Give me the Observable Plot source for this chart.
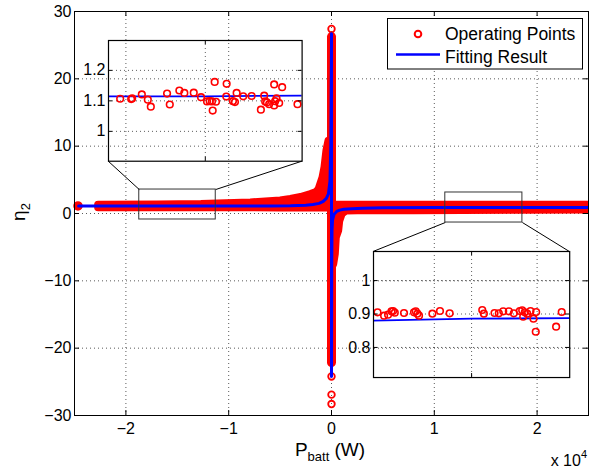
<!DOCTYPE html>
<html>
<head>
<meta charset="utf-8">
<script src="https://cdn.jsdelivr.net/npm/d3@7"></script>
<script src="https://cdn.jsdelivr.net/npm/@observablehq/plot@0.6"></script>
<style>
  body { margin: 0; background: #fff; }
  #chart { position: relative; width: 600px; height: 469px; font-family: "Liberation Sans", Arial, sans-serif; }
</style>
</head>
<body>
<div id="chart"></div>
<script>
// ================= DATA =================
const xTicks = [-20000, -10000, 0, 10000, 20000];
const yTicks = [-30, -20, -10, 0, 10, 20, 30];

// Dense cloud of operating points for P < 0 (envelope of marker centres)
const leftCloudX  = [-22700, -17000, -12700, -7900, -5000, -4000, -3000, -2040, -1500, -1260, -870, -680, -490, -300, 0];
const leftCloudHi = [1.30, 1.35, 1.40, 1.65, 1.95, 2.15, 2.45, 2.90, 3.20, 3.60, 5.40, 6.90, 9.40, 10.8, 10.8];
const leftCloudLo = [0.92, 0.92, 0.92, 0.92, 0.90, 0.90, 0.90, 0.88, 0.88, 0.88, 0.88, 0.88, 0.88, 0.88, 0.88];

// Dense cloud of operating points for P > 0
const rightCloudX  = [0, 100, 165, 320, 420, 650, 750, 1000, 1400, 2500, 8000, 18000, 25000];
const rightCloudLo = [-7.8, -7.7, -7.5, -6.0, -3.5, -2.5, -1.1, 0.0, 0.45, 0.5, 0.5, 0.55, 0.6];
const rightCloudHi = [1.3, 1.3, 1.3, 1.3, 1.3, 1.3, 1.3, 1.3, 1.3, 1.3, 1.3, 1.3, 1.3];

// Operating points stacked at P = 0
const columnLow = -22.2, columnHigh = 26.2;
const columnRingsY = [27.4, -24.2, -26.9, -28.3];
// isolated points at the far left
const edgePointsX = [-24660];
const edgePointsY = [1.12];

// Fitting result
const fitX = [-24600, -20000, -15000, -10000, -6000, -4000, -2500, -1800, -1200, -800, -500, -300, -150, -60, 0,
              0, 20, 50, 100, 250, 500, 800, 1200, 2000, 3000, 5000, 10000, 15000, 20000, 25000];
const fitY = [1.115, 1.115, 1.115, 1.118, 1.13, 1.16, 1.24, 1.33, 1.5, 1.8, 2.25, 2.9, 4.8, 10.5, 26.7,
              -24.2, -8.0, -2.5, -1.0, -0.1, 0.3, 0.5, 0.62, 0.72, 0.79, 0.84, 0.878, 0.886, 0.888, 0.888];

// Inset 1 (zoom on P around -1.5e4)
const leftInsetX = [-18298, -17834, -17872, -17459, -17227, -17111, -16481, -16376, -16005, -15812, -15448, -15166,
  -14934, -14830, -14741, -14586, -14637, -14714, -14173, -14188, -13929, -13852, -13786, -13531, -13206, -12847,
  -12719, -12681, -12615, -12332, -12023, -12526, -12332, -12240, -12294, -12139, -11428];
const leftInsetY = [1.107, 1.108, 1.106, 1.121, 1.104, 1.081, 1.124, 1.088, 1.134, 1.126, 1.127, 1.112,
  1.098, 1.099, 1.098, 1.097, 1.162, 1.068, 1.156, 1.114, 1.099, 1.096, 1.126, 1.115, 1.116, 1.071,
  1.117, 1.098, 1.095, 1.154, 1.145, 1.089, 1.085, 1.108, 1.099, 1.093, 1.089];
const leftInsetDomainX = [-18750, -11250];
const leftInsetDomainY = [0.902, 1.298];
const leftInsetTicksY = [1, 1.1, 1.2];
const leftInsetTicksX = [-15000];

// Inset 2 (zoom on P around +1.5e4)
const rightInsetX = [11403, 11654, 11807, 11937, 11998, 12063, 12417, 12799, 12864, 12929, 12990, 13501, 13791, 14161,
  15408, 15469, 15877, 16041, 16209, 16423, 16614, 16842, 16934, 16972, 17033, 17125, 17251, 17365, 17468, 17453,
  18231, 18445];
const rightInsetY = [0.905, 0.895, 0.898, 0.908, 0.909, 0.904, 0.903, 0.905, 0.908, 0.901, 0.895, 0.901, 0.909, 0.902,
  0.912, 0.901, 0.903, 0.902, 0.908, 0.908, 0.902, 0.909, 0.911, 0.892, 0.905, 0.901, 0.909, 0.886, 0.906, 0.847,
  0.862, 0.906];
const rightInsetDomainX = [11250, 18750];
const rightInsetDomainY = [0.71, 1.087];
const rightInsetTicksY = [0.8, 0.9, 1];
const rightInsetTicksX = [15000];

// ================= LAYOUT =================
const W = 600, H = 469;
const ML = 74, MR = 12, MT = 11, MB = 54;
const FW = W - ML - MR, FH = H - MT - MB;
const RED = "#ff0000", BLUE = "#0000ff";
const FONT = '"Liberation Sans", Arial, sans-serif';
const DOTS = "1,3";
const zoomBoxes = [
  {x1: -18700, x2: -11260, y1: -0.89, y2: 3.56},
  {x1: 11070, x2: 18570, y1: -1.34, y2: 3.12}
];
const insetPlaces = [
  {x1: -21718, x2: -2883, y1: 7.77, y2: 25.7},
  {x1: 4049, x2: 23136, y1: -24.36, y2: -5.64}
];
const connectors = [
  {x1: insetPlaces[0].x1, y1: insetPlaces[0].y1, x2: zoomBoxes[0].x1, y2: zoomBoxes[0].y2},
  {x1: insetPlaces[0].x2, y1: insetPlaces[0].y1, x2: zoomBoxes[0].x2, y2: zoomBoxes[0].y2},
  {x1: insetPlaces[1].x1, y1: insetPlaces[1].y2, x2: zoomBoxes[1].x1, y2: zoomBoxes[1].y1},
  {x1: insetPlaces[1].x2, y1: insetPlaces[1].y2, x2: zoomBoxes[1].x2, y2: zoomBoxes[1].y1}
];

// ================= TABLES =================
const leftCloud = leftCloudX.map((x, i) => ({x, lo: leftCloudLo[i], hi: leftCloudHi[i]}));
const rightCloud = rightCloudX.map((x, i) => ({x, lo: rightCloudLo[i], hi: rightCloudHi[i]}));
const column = [{x: 0, y1: columnLow, y2: columnHigh}];
const columnRings = columnRingsY.map(y => ({x: 0, y}));
const edgePoints = edgePointsX.map((x, i) => ({x, y: edgePointsY[i]}));
const fit = fitX.map((x, i) => ({x, y: fitY[i]}));
const leftInsetPts = leftInsetX.map((x, i) => ({x, y: leftInsetY[i]}));
const rightInsetPts = rightInsetX.map((x, i) => ({x, y: rightInsetY[i]}));

const fmt = d => (d < 0 ? "\u2212" : "") + Math.abs(d);

// cloud = filled envelope + marker-sized outline
const cloudStyle = {stroke: RED, strokeWidth: 8, strokeLinejoin: "round", strokeLinecap: "round", clip: true};
const cloudMarks = cloud => [
  Plot.areaY(cloud, {x: "x", y1: "lo", y2: "hi", fill: RED, clip: true}),
  Plot.line(cloud, {x: "x", y: "hi", ...cloudStyle}),
  Plot.line(cloud, {x: "x", y: "lo", ...cloudStyle})
];

// ================= MAIN PLOT =================
const main = Plot.plot({
  width: W, height: H,
  marginLeft: ML, marginRight: MR, marginTop: MT, marginBottom: MB,
  style: {fontFamily: FONT, fontSize: "16px", color: "#000", background: "#fff", overflow: "visible"},
  x: {domain: [-25000, 25000], ticks: xTicks, tickFormat: d => fmt(d / 1e4), tickSize: 0, tickPadding: 7, label: null},
  y: {domain: [-30, 30], ticks: yTicks, tickFormat: fmt, tickSize: 0, tickPadding: 3, label: null},
  marks: [
    Plot.ruleX(xTicks, {stroke: "#000", strokeOpacity: 0.65, strokeDasharray: DOTS}),
    Plot.ruleY(yTicks, {stroke: "#000", strokeOpacity: 0.65, strokeDasharray: DOTS}),
    ...cloudMarks(leftCloud),
    ...cloudMarks(rightCloud),
    Plot.ruleX(column, {x: "x", y1: "y1", y2: "y2", stroke: RED, strokeWidth: 9, strokeLinecap: "round"}),
    Plot.dot(columnRings, {x: "x", y: "y", r: 3.3, stroke: RED, strokeWidth: 1.8}),
    Plot.dot(edgePoints, {x: "x", y: "y", r: 4, fill: RED, stroke: RED, strokeWidth: 1.5}),
    Plot.line(fit, {x: "x", y: "y", stroke: BLUE, strokeWidth: 3, clip: true}),
    Plot.rect(zoomBoxes, {x1: "x1", x2: "x2", y1: "y1", y2: "y2", fill: "none", stroke: "#333", strokeWidth: 1}),
    Plot.link(connectors, {x1: "x1", y1: "y1", x2: "x2", y2: "y2", stroke: "#000", strokeWidth: 1}),
    Plot.frame({stroke: "#000", strokeWidth: 1}),
    Plot.ruleX(xTicks, {stroke: "#000", insetTop: FH - 5}),
    Plot.ruleX(xTicks, {stroke: "#000", insetBottom: FH - 5}),
    Plot.ruleY(yTicks, {stroke: "#000", insetRight: FW - 5}),
    Plot.ruleY(yTicks, {stroke: "#000", insetLeft: FW - 5})
  ]
});

const chart = document.getElementById("chart");
chart.append(main);

const svg = d3.select(main);
// y label: eta_2
const yl = svg.append("text").attr("transform", "translate(25,212) rotate(-90)")
  .attr("text-anchor", "middle").attr("fill", "#000").style("font-size", "19px");
yl.append("tspan").text("η");
yl.append("tspan").attr("dy", 5).style("font-size", "13px").text("2");
// x label: P_batt (W)
const xl = svg.append("text").attr("x", 330).attr("y", 456)
  .attr("text-anchor", "middle").attr("fill", "#000").style("font-size", "19px");
xl.append("tspan").text("P");
xl.append("tspan").attr("dy", 5).style("font-size", "13px").text("batt");
xl.append("tspan").attr("dy", -5).text("\u00a0(W)");
// exponent
const xm = svg.append("text").attr("x", 587).attr("y", 466)
  .attr("text-anchor", "end").attr("fill", "#000").style("font-size", "16px");
xm.append("tspan").text("x 10");
xm.append("tspan").attr("dy", -8).style("font-size", "11px").text("4");

// legend
const lg = svg.append("g");
lg.append("rect").attr("x", 387.5).attr("y", 18.5).attr("width", 195).attr("height", 50.5)
  .attr("fill", "#fff").attr("stroke", "#000");
lg.append("circle").attr("cx", 418).attr("cy", 34).attr("r", 3.3)
  .attr("fill", "none").attr("stroke", RED).attr("stroke-width", 2);
lg.append("line").attr("x1", 396).attr("x2", 440).attr("y1", 54.5).attr("y2", 54.5)
  .attr("stroke", BLUE).attr("stroke-width", 2.5);
lg.append("text").attr("x", 445).attr("y", 40).attr("text-anchor", "start").attr("fill", "#000")
  .style("font-size", "17.5px").text("Operating Points");
lg.append("text").attr("x", 445).attr("y", 63.3).attr("text-anchor", "start").attr("fill", "#000")
  .style("font-size", "17.5px").text("Fitting Result");

// ================= INSETS =================
const xs = main.scale("x"), ys = main.scale("y");
const lin = (s, v) => s.apply ? s.apply(v)
  : s.range[0] + (v - s.domain[0]) / (s.domain[1] - s.domain[0]) * (s.range[1] - s.range[0]);

function inset(place, pts, domX, domY, ticksY, ticksX) {
  const left = lin(xs, place.x1), right = lin(xs, place.x2);
  const top = lin(ys, place.y2), bottom = lin(ys, place.y1);
  const w = right - left, h = bottom - top;
  const IML = 40, IM = 1;
  const fitIn = fit.filter(d => d.x >= domX[0] - 3000 && d.x <= domX[1] + 3000);
  const p = Plot.plot({
    width: w + IML + IM, height: h + 2 * IM,
    marginLeft: IML, marginRight: IM, marginTop: IM, marginBottom: IM,
    style: {fontFamily: FONT, fontSize: "16px", color: "#000", background: "transparent", overflow: "visible"},
    x: {domain: domX, axis: null},
    y: {domain: domY, ticks: ticksY, tickFormat: d => String(d), tickSize: 0, tickPadding: 3, label: null},
    marks: [
      Plot.ruleY(ticksY, {stroke: "#000", strokeOpacity: 0.65, strokeDasharray: DOTS}),
      Plot.ruleX(ticksX, {stroke: "#000", strokeOpacity: 0.65, strokeDasharray: DOTS}),
      Plot.line(fitIn, {x: "x", y: "y", stroke: BLUE, strokeWidth: 1.8, clip: true}),
      Plot.dot(pts, {x: "x", y: "y", r: 3.3, stroke: RED, strokeWidth: 1.6}),
      Plot.frame({stroke: "#000", strokeWidth: 1.2}),
      Plot.ruleY(ticksY, {stroke: "#000", insetRight: w - 4}),
      Plot.ruleY(ticksY, {stroke: "#000", insetLeft: w - 4}),
      Plot.ruleX(ticksX, {stroke: "#000", insetTop: h - 4}),
      Plot.ruleX(ticksX, {stroke: "#000", insetBottom: h - 4})
    ]
  });
  p.style.position = "absolute";
  p.style.left = (left - IML) + "px";
  p.style.top = (top - IM) + "px";
  chart.append(p);
}

inset(insetPlaces[0], leftInsetPts, leftInsetDomainX, leftInsetDomainY, leftInsetTicksY, leftInsetTicksX);
inset(insetPlaces[1], rightInsetPts, rightInsetDomainX, rightInsetDomainY, rightInsetTicksY, rightInsetTicksX);
</script>
</body>
</html>
